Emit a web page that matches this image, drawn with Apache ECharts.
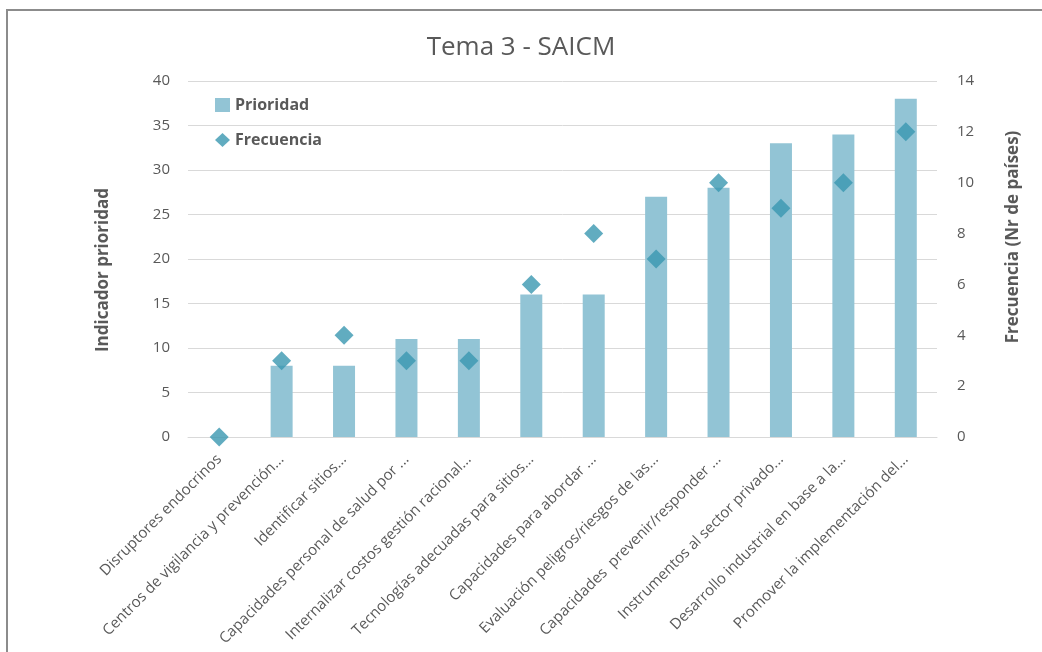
<!DOCTYPE html>
<html>
<head>
<meta charset="utf-8">
<script src="https://cdn.jsdelivr.net/npm/echarts@6/dist/echarts.min.js"></script>
<style>
  html, body { margin: 0; padding: 0; background: #fff; }
  #chart { width: 1042px; height: 652px; }
</style>
</head>
<body>
<div id="chart"></div>
<script>
var categorias = [
    "Disruptores endocrinos",
    "Centros de vigilancia y prevención...",
    "Identificar sitios...",
    "Capacidades personal de salud por ...",
    "Internalizar costos gestión racional...",
    "Tecnologías adecuadas para sitios...",
    "Capacidades para abordar ...",
    "Evaluación peligros/riesgos de las...",
    "Capacidades  prevenir/responder ...",
    "Instrumentos al sector privado...",
    "Desarrollo industrial en base a la...",
    "Promover la implementación del..."
];
var prioridad = [0, 8, 8, 11, 11, 16, 16, 27, 28, 33, 34, 38];
var frecuencia = [0, 3, 4, 3, 3, 6, 8, 7, 10, 9, 10, 12];

var fuente = "Open Sans";
var gris = "#595959";

var chart = echarts.init(document.getElementById('chart'));

var option = {
    animation: false,
    textStyle: { fontFamily: fuente },
    title: {
        text: "Tema 3 - SAICM",
        left: 'center',
        top: 30,
        textStyle: { fontFamily: fuente, fontSize: 26, fontWeight: 'normal', color: gris }
    },
    graphic: [{
        type: 'polyline',
        shape: { points: [[7, 660], [7, 10], [1050, 10]] },
        style: { stroke: '#8c8c8c', lineWidth: 2, fill: null },
        silent: true
    }],
    legend: {
        orient: 'vertical',
        left: 210,
        top: 92,
        itemGap: 19,
        itemWidth: 15,
        itemHeight: 14,
        textStyle: { fontFamily: fuente, fontSize: 16, fontWeight: 'bold', color: gris },
        data: [
            { name: 'Prioridad', icon: 'rect' },
            { name: 'Frecuencia', icon: 'diamond' }
        ]
    },
    grid: { left: 188, right: 105, top: 81, bottom: 215 },
    xAxis: {
        type: 'category',
        data: categorias,
        axisLine: { lineStyle: { color: '#d9d9d9' } },
        axisTick: { show: false },
        axisLabel: {
            interval: 0,
            rotate: 45,
            fontFamily: fuente,
            fontSize: 15,
            color: gris,
            margin: 20
        }
    },
    yAxis: [{
        type: 'value',
        min: 0, max: 40, interval: 5,
        name: 'Indicador prioridad',
        nameLocation: 'middle',
        nameGap: 76,
        nameRotate: 90,
        nameTextStyle: { fontFamily: fuente, fontSize: 17, fontWeight: 'bold', color: gris, padding: [0, 22, 0, 0] },
        axisLine: { show: false },
        axisTick: { show: false },
        axisLabel: { fontFamily: fuente, fontSize: 15, color: gris, margin: 18 },
        splitLine: { lineStyle: { color: '#d9d9d9' } }
    }, {
        type: 'value',
        min: 0, max: 14, interval: 2,
        name: 'Frecuencia (Nr de países)',
        nameLocation: 'middle',
        nameGap: 68,
        nameRotate: 90,
        nameTextStyle: { fontFamily: fuente, fontSize: 17, fontWeight: 'bold', color: gris, padding: [0, 0, 0, 44] },
        axisLine: { show: false },
        axisTick: { show: false },
        axisLabel: { fontFamily: fuente, fontSize: 15, color: gris, margin: 20 },
        splitLine: { show: false }
    }],
    series: [{
        name: 'Prioridad',
        type: 'bar',
        data: prioridad,
        barWidth: 22,
        itemStyle: { color: '#92c4d5' }
    }, {
        name: 'Frecuencia',
        type: 'scatter',
        yAxisIndex: 1,
        data: frecuencia,
        symbol: 'diamond',
        symbolSize: 19,
        itemStyle: { color: '#3a97b0' }
    }]
};

chart.setOption(option);
</script>
</body>
</html>
